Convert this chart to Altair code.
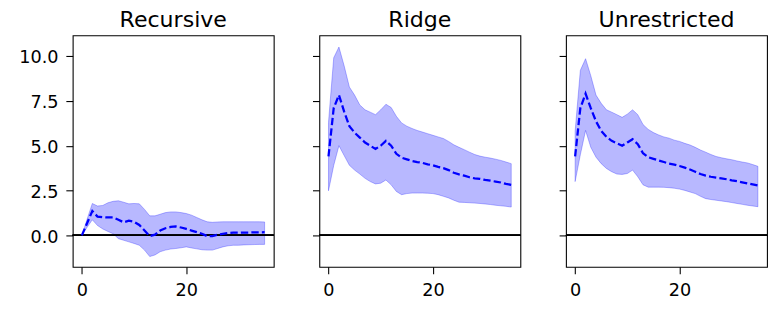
import altair as alt
import pandas as pd

steps = list(range(36))
panel_titles = ["Recursive", "Ridge", "Unrestricted"]

rec_mid = [0, 0.68, 1.36, 1.05, 1.02, 1.0, 1.0, 0.87, 0.73, 0.82,
           0.76, 0.58, 0.27, -0.04, 0.04, 0.27, 0.4, 0.47, 0.5, 0.44,
           0.36, 0.27, 0.18, 0.09, -0.04, -0.04, 0.04, 0.09, 0.13, 0.15,
           0.15, 0.16, 0.16, 0.17, 0.17, 0.18]
rec_hi = [0, 0.9, 1.78, 1.64, 1.67, 1.82, 1.9, 1.93, 1.85, 1.76,
          1.78, 1.76, 1.45, 1.09, 1.09, 1.18, 1.27, 1.31, 1.31, 1.27,
          1.22, 1.13, 1.0, 0.87, 0.76, 0.73, 0.75, 0.76, 0.76, 0.76,
          0.76, 0.76, 0.76, 0.76, 0.76, 0.75]
rec_lo = [0, 0.45, 0.87, 0.55, 0.36, 0.22, 0.09, -0.18, -0.27, -0.36,
          -0.45, -0.55, -0.82, -1.18, -1.09, -0.91, -0.82, -0.76, -0.73, -0.69,
          -0.64, -0.7, -0.75, -0.8, -0.82, -0.82, -0.73, -0.64, -0.58, -0.55,
          -0.55, -0.53, -0.52, -0.51, -0.5, -0.5]

rid_mid = [4.4, 7.1, 7.82, 6.9, 6.09, 5.73, 5.45, 5.18, 5.0, 4.82,
           5.0, 5.27, 5.0, 4.55, 4.33, 4.24, 4.15, 4.09, 4.04, 3.96,
           3.91, 3.82, 3.75, 3.64, 3.49, 3.4, 3.33, 3.24, 3.18, 3.15,
           3.09, 3.05, 3.0, 2.95, 2.87, 2.82]
rid_hi = [6.3, 9.9, 10.5, 9.45, 8.27, 7.82, 7.27, 7.0, 6.87, 6.73,
          7.0, 7.31, 7.13, 6.64, 6.27, 6.09, 5.96, 5.85, 5.76, 5.67,
          5.58, 5.49, 5.4, 5.24, 5.05, 4.91, 4.78, 4.64, 4.51, 4.42,
          4.36, 4.31, 4.25, 4.18, 4.09, 4.0]
rid_lo = [2.49, 3.9, 5.0, 4.45, 3.91, 3.64, 3.42, 3.18, 3.0, 2.87,
          2.91, 3.09, 2.82, 2.45, 2.27, 2.33, 2.36, 2.36, 2.36, 2.35,
          2.33, 2.27, 2.18, 2.09, 1.96, 1.85, 1.84, 1.82, 1.8, 1.78,
          1.75, 1.72, 1.68, 1.65, 1.62, 1.58]

unr_mid = [4.4, 7.1, 7.9, 7.09, 6.36, 5.82, 5.49, 5.27, 5.13, 5.0,
           5.18, 5.36, 5.09, 4.58, 4.36, 4.27, 4.18, 4.09, 4.0, 3.95,
           3.87, 3.78, 3.67, 3.55, 3.42, 3.33, 3.27, 3.22, 3.18, 3.13,
           3.07, 3.02, 2.96, 2.9, 2.84, 2.78]
unr_hi = [5.8, 9.2, 9.85, 8.9, 7.82, 7.36, 7.0, 6.87, 6.73, 6.58,
          6.76, 7.0, 6.73, 6.18, 5.91, 5.73, 5.6, 5.49, 5.42, 5.31,
          5.24, 5.13, 5.04, 4.91, 4.76, 4.64, 4.51, 4.4, 4.33, 4.27,
          4.22, 4.15, 4.09, 4.04, 3.95, 3.85]
unr_lo = [3.0, 4.5, 5.85, 4.91, 4.36, 4.0, 3.73, 3.55, 3.42, 3.4,
          3.45, 3.64, 3.27, 2.82, 2.69, 2.69, 2.69, 2.68, 2.66, 2.63,
          2.58, 2.51, 2.42, 2.33, 2.18, 2.05, 2.0, 1.96, 1.92, 1.88,
          1.83, 1.78, 1.73, 1.68, 1.64, 1.6]

x_ticks = [0, 20]
y_ticks = [0, 2.5, 5, 7.5, 10]
x_domain = [-1.75, 36.75]
y_domain = [-1.75, 11.15]

FONT = "DejaVu Sans"


def panel(name, mid, lo, hi, show_labels):
    df = pd.DataFrame({"t": steps, "mid": mid, "lo": lo, "hi": hi})
    base = alt.Chart(df)
    x = alt.X("t:Q", scale=alt.Scale(domain=x_domain, nice=False, zero=False),
              axis=alt.Axis(values=x_ticks, title=None, labelPadding=8))
    yaxis = alt.Axis(values=y_ticks, title=None, format=".1f",
                     labels=show_labels, labelPadding=8, labelOffset=2)
    yscale = alt.Scale(domain=y_domain, nice=False, zero=False)
    band = base.mark_area(fill="blue", fillOpacity=0.28, stroke="blue",
                          strokeOpacity=0.28, strokeWidth=1).encode(
        x=x, y=alt.Y("lo:Q", scale=yscale, axis=yaxis), y2="hi:Q")
    zero = base.mark_rule(color="black", strokeWidth=0.8).encode(y=alt.datum(0))
    line = base.mark_line(color="blue", strokeWidth=2.3, strokeDash=[7.5, 3.2]).encode(
        x=x, y=alt.Y("mid:Q", scale=yscale, axis=yaxis))
    return alt.layer(band, zero, line).properties(
        width=205, height=236,
        title=alt.TitleParams(name, fontSize=22.5, font=FONT, fontWeight="normal",
                              color="black", baseline="bottom", offset=-18.7))


chart = alt.hconcat(
    panel(panel_titles[0], rec_mid, rec_lo, rec_hi, True),
    panel(panel_titles[1], rid_mid, rid_lo, rid_hi, False),
    panel(panel_titles[2], unr_mid, unr_lo, unr_hi, False),
    spacing=36.5,
).properties(
    padding={"left": 10, "top": -3, "right": 0, "bottom": 0}
).configure_view(
    stroke="black", strokeWidth=1.1
).configure_axis(
    grid=False, domain=False, tickColor="black", tickSize=7, tickWidth=1.1,
    labelColor="black", labelFont=FONT, labelFontSize=18
).configure_concat(spacing=36.5)

chart.save("out.html", embed_options={"renderer": "svg", "actions": False})
